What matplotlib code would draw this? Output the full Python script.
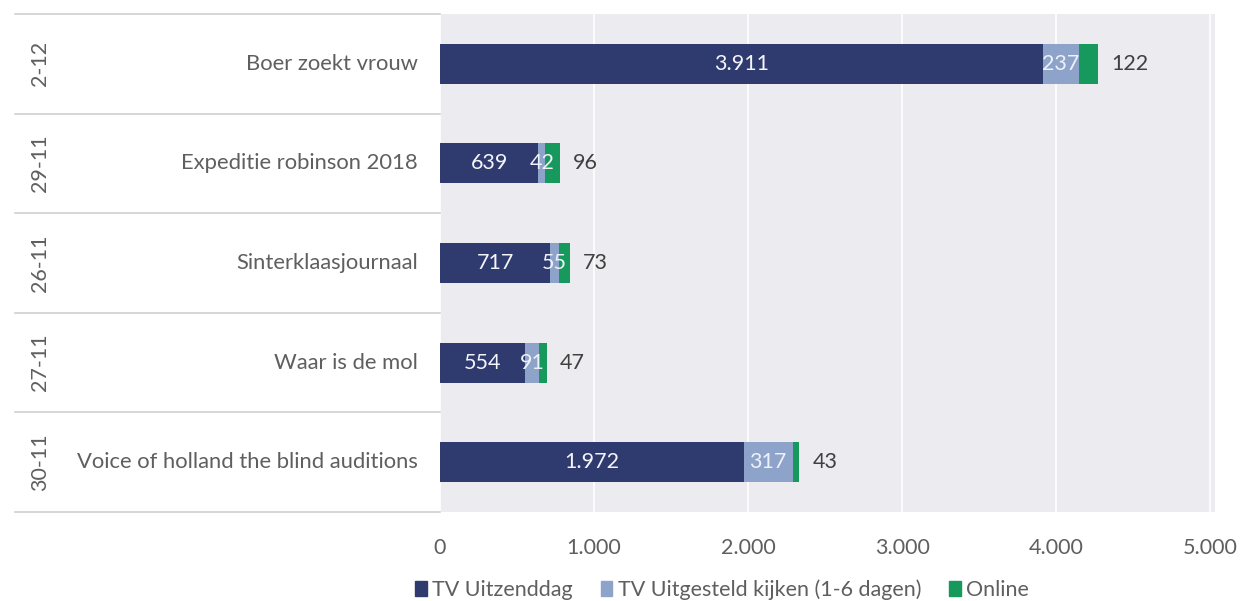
import numpy as np
import matplotlib
matplotlib.use("Agg")
import matplotlib.pyplot as plt
from matplotlib.lines import Line2D
from matplotlib.patches import Patch

# data (bovenste rij eerst)
programmas = ['Boer zoekt vrouw', 'Expeditie robinson 2018', 'Sinterklaasjournaal',
              'Waar is de mol', 'Voice of holland the blind auditions']
datums = ['2-12', '29-11', '26-11', '27-11', '30-11']
tv_uitzenddag = [3911, 639, 717, 554, 1972]
tv_uitgesteld = [237, 42, 55, 91, 317]
online = [122, 96, 73, 47, 43]
xticks = [0, 1000, 2000, 3000, 4000, 5000]
xticklabels = ['0', '1.000', '2.000', '3.000', '4.000', '5.000']

c_dark = '#2f3a6f'
c_light = '#8ea3c9'
c_green = '#17985c'
c_bg = '#ebebf0'
c_txt = '#5f5f5f'

plt.rcParams['font.family'] = ['Lato', 'DejaVu Sans']
fs = 15.5

W, H = 1243, 601
fig = plt.figure(figsize=(W / 100, H / 100), dpi=100)

x0, x1 = 440, 1215
y0, y1 = 14, 512
ax = fig.add_axes([x0 / W, 1 - y1 / H, (x1 - x0) / W, (y1 - y0) / H])
ax.set_facecolor(c_bg)

n = len(programmas)
y = np.arange(n)[::-1]
h = 0.4

a = np.array(tv_uitzenddag)
b = np.array(tv_uitgesteld)
c = np.array(online)

ax.barh(y, a, height=h, color=c_dark, zorder=3)
ax.barh(y, b, left=a, height=h, color=c_light, zorder=3)
ax.barh(y, c, left=a + b, height=h, color=c_green, zorder=3)

def fmt(v):
    return f'{v:,}'.replace(',', '.')

for i in range(n):
    ax.text(a[i] / 2, y[i], fmt(a[i]), color='#f4f5f9', ha='center', va='center',
            fontsize=fs, zorder=4)
    ax.text(a[i] + b[i] / 2, y[i], fmt(b[i]), color='#eef1f8', ha='center', va='center',
            fontsize=fs, zorder=4)
    ax.text(a[i] + b[i] + c[i] + 85, y[i], fmt(c[i]), color='#404040', ha='left', va='center',
            fontsize=fs, zorder=4)

ax.set_xlim(0, 5030)
ax.set_ylim(-0.5, n - 0.5)
ax.set_xticks(xticks)
ax.set_xticklabels(xticklabels, color=c_txt, fontsize=fs)
ax.tick_params(axis='x', length=0, pad=19)
ax.set_yticks([])
ax.xaxis.grid(True, color='white', lw=1.2, zorder=1)
for s in ax.spines.values():
    s.set_visible(False)

# linkerpaneel: scheidingslijnen, datums en programmanamen
row_h = (y1 - y0) / n
for k in range(n + 1):
    yy = 1 - (y0 + k * row_h) / H
    fig.add_artist(Line2D([15 / W, x0 / W], [yy, yy], color='#d0d0d0', lw=1.2))
for k in range(n):
    yc = 1 - (y0 + (k + 0.5) * row_h) / H
    fig.text(418 / W, yc, programmas[k], ha='right', va='center', color=c_txt, fontsize=fs + 0.3)
    fig.text(40 / W, yc, datums[k], ha='center', va='center', rotation=90,
             color=c_txt, fontsize=fs)

handles = [Patch(color=c_dark), Patch(color=c_light), Patch(color=c_green)]
fig.legend(handles, ['TV Uitzenddag', 'TV Uitgesteld kijken (1-6 dagen)', 'Online'],
           loc='center', bbox_to_anchor=(722 / W, 1 - 590 / H), ncol=3, frameon=False,
           handlelength=0.55, handleheight=0.7, handletextpad=0.25, columnspacing=1.3,
           fontsize=fs, labelcolor=c_txt)

fig.savefig('out.png', dpi=100, facecolor='white')
